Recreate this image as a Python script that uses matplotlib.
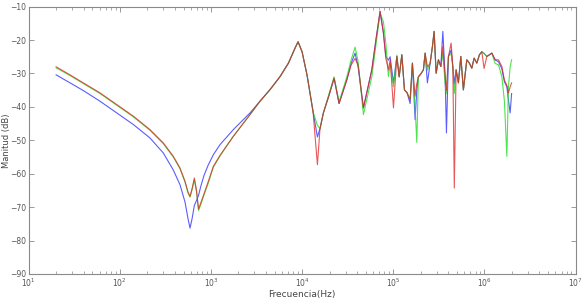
import matplotlib
matplotlib.use("Agg")
import matplotlib.pyplot as plt
from matplotlib.ticker import LogLocator, NullFormatter, FixedLocator, LogFormatterSciNotation

# Frequency samples (Hz)
freq_hz = [
    20, 28.4, 39.7, 60.6, 92.5, 141, 214, 300, 386, 457,
    519, 560, 589, 620, 657, 694, 730, 778, 839, 929,
    1062, 1256, 1758, 2680, 3450, 4450, 5730, 7070, 8360, 9020,
    9980, 11320, 13180, 14700, 15700, 17100, 19730, 22400, 25400, 30900,
    34400, 38100, 41100, 47000, 58100, 64800, 71600,
    77900, 82800, 88400, 92300, 100400,
    109400, 115900, 124000, 132500, 141700, 152900, 162000, 173300, 181000, 188400,
    201700, 213900, 223300, 236600, 253300, 268600, 280300, 294900, 312600, 332000,
    349300, 370100, 382700, 402500, 430700, 449500, 466700, 488500, 517700, 550000,
    587000, 640000, 683000, 726000, 770000, 824000, 880000, 935000, 990000, 1061000,
    1133000, 1204000, 1309000, 1424000, 1550000, 1655000, 1760000, 1832000, 1912000, 1985000,
]

mag_red = [
    -28.0, -30.4, -32.8, -35.8, -39.3, -42.8, -46.8, -50.8, -54.8, -58.3,
    -62.3, -65.5, -66.8, -64.5, -61.3, -65.0, -70.6, -68.5, -66.0, -62.5,
    -57.8, -54.5, -48.8, -42.3, -38.3, -34.8, -30.9, -26.9, -22.4, -20.5,
    -23.5, -30.5, -41.5, -57.3, -46.5, -41.8, -36.5, -31.4, -39.0, -31.9,
    -27.5, -25.5, -27.5, -40.3, -28.9, -19.5, -11.4,
    -17.9, -25.5, -28.9, -25.9, -40.3,
    -24.9, -31.0, -24.4, -34.9, -35.8, -37.8, -26.9, -36.8, -33.0, -31.0,
    -30.0, -28.9, -23.9, -28.0, -27.0, -21.9, -17.4, -29.9, -25.9, -27.9,
    -21.9, -30.9, -35.0, -24.9, -20.9, -27.9, -64.3, -28.9, -32.8, -24.9,
    -34.9, -25.9, -26.9, -28.4, -25.4, -26.9, -24.4, -23.5, -28.5, -24.9,
    -24.4, -23.9, -25.9, -25.9, -27.9, -32.0, -33.5, -35.8, -34.0, -32.8,
]

mag_green = [
    -28.3, -30.6, -33.0, -36.0, -39.5, -43.0, -47.0, -51.0, -55.0, -58.5,
    -62.5, -65.8, -67.0, -64.8, -61.8, -65.5, -71.0, -69.0, -66.3, -63.0,
    -58.0, -54.7, -48.8, -42.3, -38.3, -34.8, -30.9, -26.9, -22.4, -20.5,
    -23.5, -30.5, -41.5, -45.5, -46.5, -41.8, -36.0, -31.0, -38.5, -31.0,
    -26.0, -22.1, -26.5, -42.3, -31.0, -21.0, -12.0,
    -14.5, -21.0, -30.9, -27.0, -34.0,
    -24.5, -31.0, -24.4, -34.9, -35.8, -37.8, -26.9, -40.0, -50.6, -31.0,
    -30.0, -28.9, -23.9, -29.0, -27.0, -21.9, -17.4, -29.9, -25.9, -27.9,
    -24.0, -33.0, -36.0, -24.9, -24.0, -27.9, -36.0, -28.9, -32.8, -24.9,
    -34.9, -25.9, -26.9, -28.4, -25.4, -26.9, -24.4, -23.5, -24.0, -24.9,
    -24.4, -23.9, -27.0, -27.4, -30.9, -38.3, -54.8, -34.0, -28.0, -25.9,
]

mag_blue = [
    -30.4, -32.8, -35.1, -38.3, -41.8, -45.3, -49.3, -53.8, -58.9, -63.3,
    -68.5, -73.5, -76.3, -73.5, -69.5, -68.0, -66.5, -63.5, -60.5, -57.5,
    -54.3, -51.3, -46.8, -41.8, -38.3, -34.8, -30.9, -26.9, -22.4, -20.5,
    -23.5, -30.5, -41.5, -49.0, -46.5, -41.8, -36.5, -31.4, -39.0, -31.9,
    -27.0, -23.9, -28.0, -40.3, -28.9, -19.5, -11.4,
    -17.9, -24.9, -26.0, -25.0, -32.8,
    -24.9, -31.0, -24.4, -34.9, -35.8, -39.0, -26.9, -43.8, -35.0, -31.0,
    -30.0, -28.9, -23.9, -32.8, -27.0, -21.9, -17.4, -29.9, -25.9, -27.9,
    -17.4, -30.9, -47.8, -24.9, -23.0, -27.9, -33.0, -28.9, -32.8, -24.9,
    -34.9, -25.9, -26.9, -28.4, -25.4, -26.9, -24.4, -23.5, -24.0, -24.9,
    -24.4, -23.9, -25.9, -26.5, -28.5, -32.5, -34.0, -38.0, -41.8, -36.0,
]

x_ticks = [1e1, 1e2, 1e3, 1e4, 1e5, 1e6, 1e7]
y_ticks = [-90, -80, -70, -60, -50, -40, -30, -20, -10]

fig = plt.figure(figsize=(5.85, 3.04), dpi=100)
ax = fig.add_axes([0.049, 0.099, 0.935, 0.879])

ax.plot(freq_hz, mag_blue, color="#3333ff", lw=0.8, alpha=0.8)
ax.plot(freq_hz, mag_green, color="#22dd22", lw=0.8, alpha=0.8)
ax.plot(freq_hz, mag_red, color="#e02020", lw=0.8, alpha=0.75)

ax.set_xscale("log")
ax.set_xlim(10, 1e7)
ax.set_ylim(-90, -10)
ax.yaxis.set_major_locator(FixedLocator(y_ticks))
ax.xaxis.set_major_locator(FixedLocator(x_ticks))
ax.xaxis.set_major_formatter(LogFormatterSciNotation())
ax.xaxis.set_minor_locator(LogLocator(base=10, subs=range(2, 10), numticks=100))
ax.xaxis.set_minor_formatter(NullFormatter())

grey = "#8a8a8a"
for s in ax.spines.values():
    s.set_color(grey)
    s.set_linewidth(0.8)
ax.tick_params(which="both", direction="in", top=True, right=True,
               colors=grey, labelcolor="#555555", labelsize=5.5)
ax.tick_params(which="major", length=3.5, width=0.6, pad=2)
ax.tick_params(which="minor", length=2, width=0.5)

ax.set_xlabel("Frecuencia(Hz)", fontsize=6.5, color="#444444", labelpad=1)
ax.set_ylabel("Manitud (dB)", fontsize=6, color="#444444")
ax.yaxis.set_label_coords(-0.032, 0.5)

fig.savefig("out.png", dpi=100)
